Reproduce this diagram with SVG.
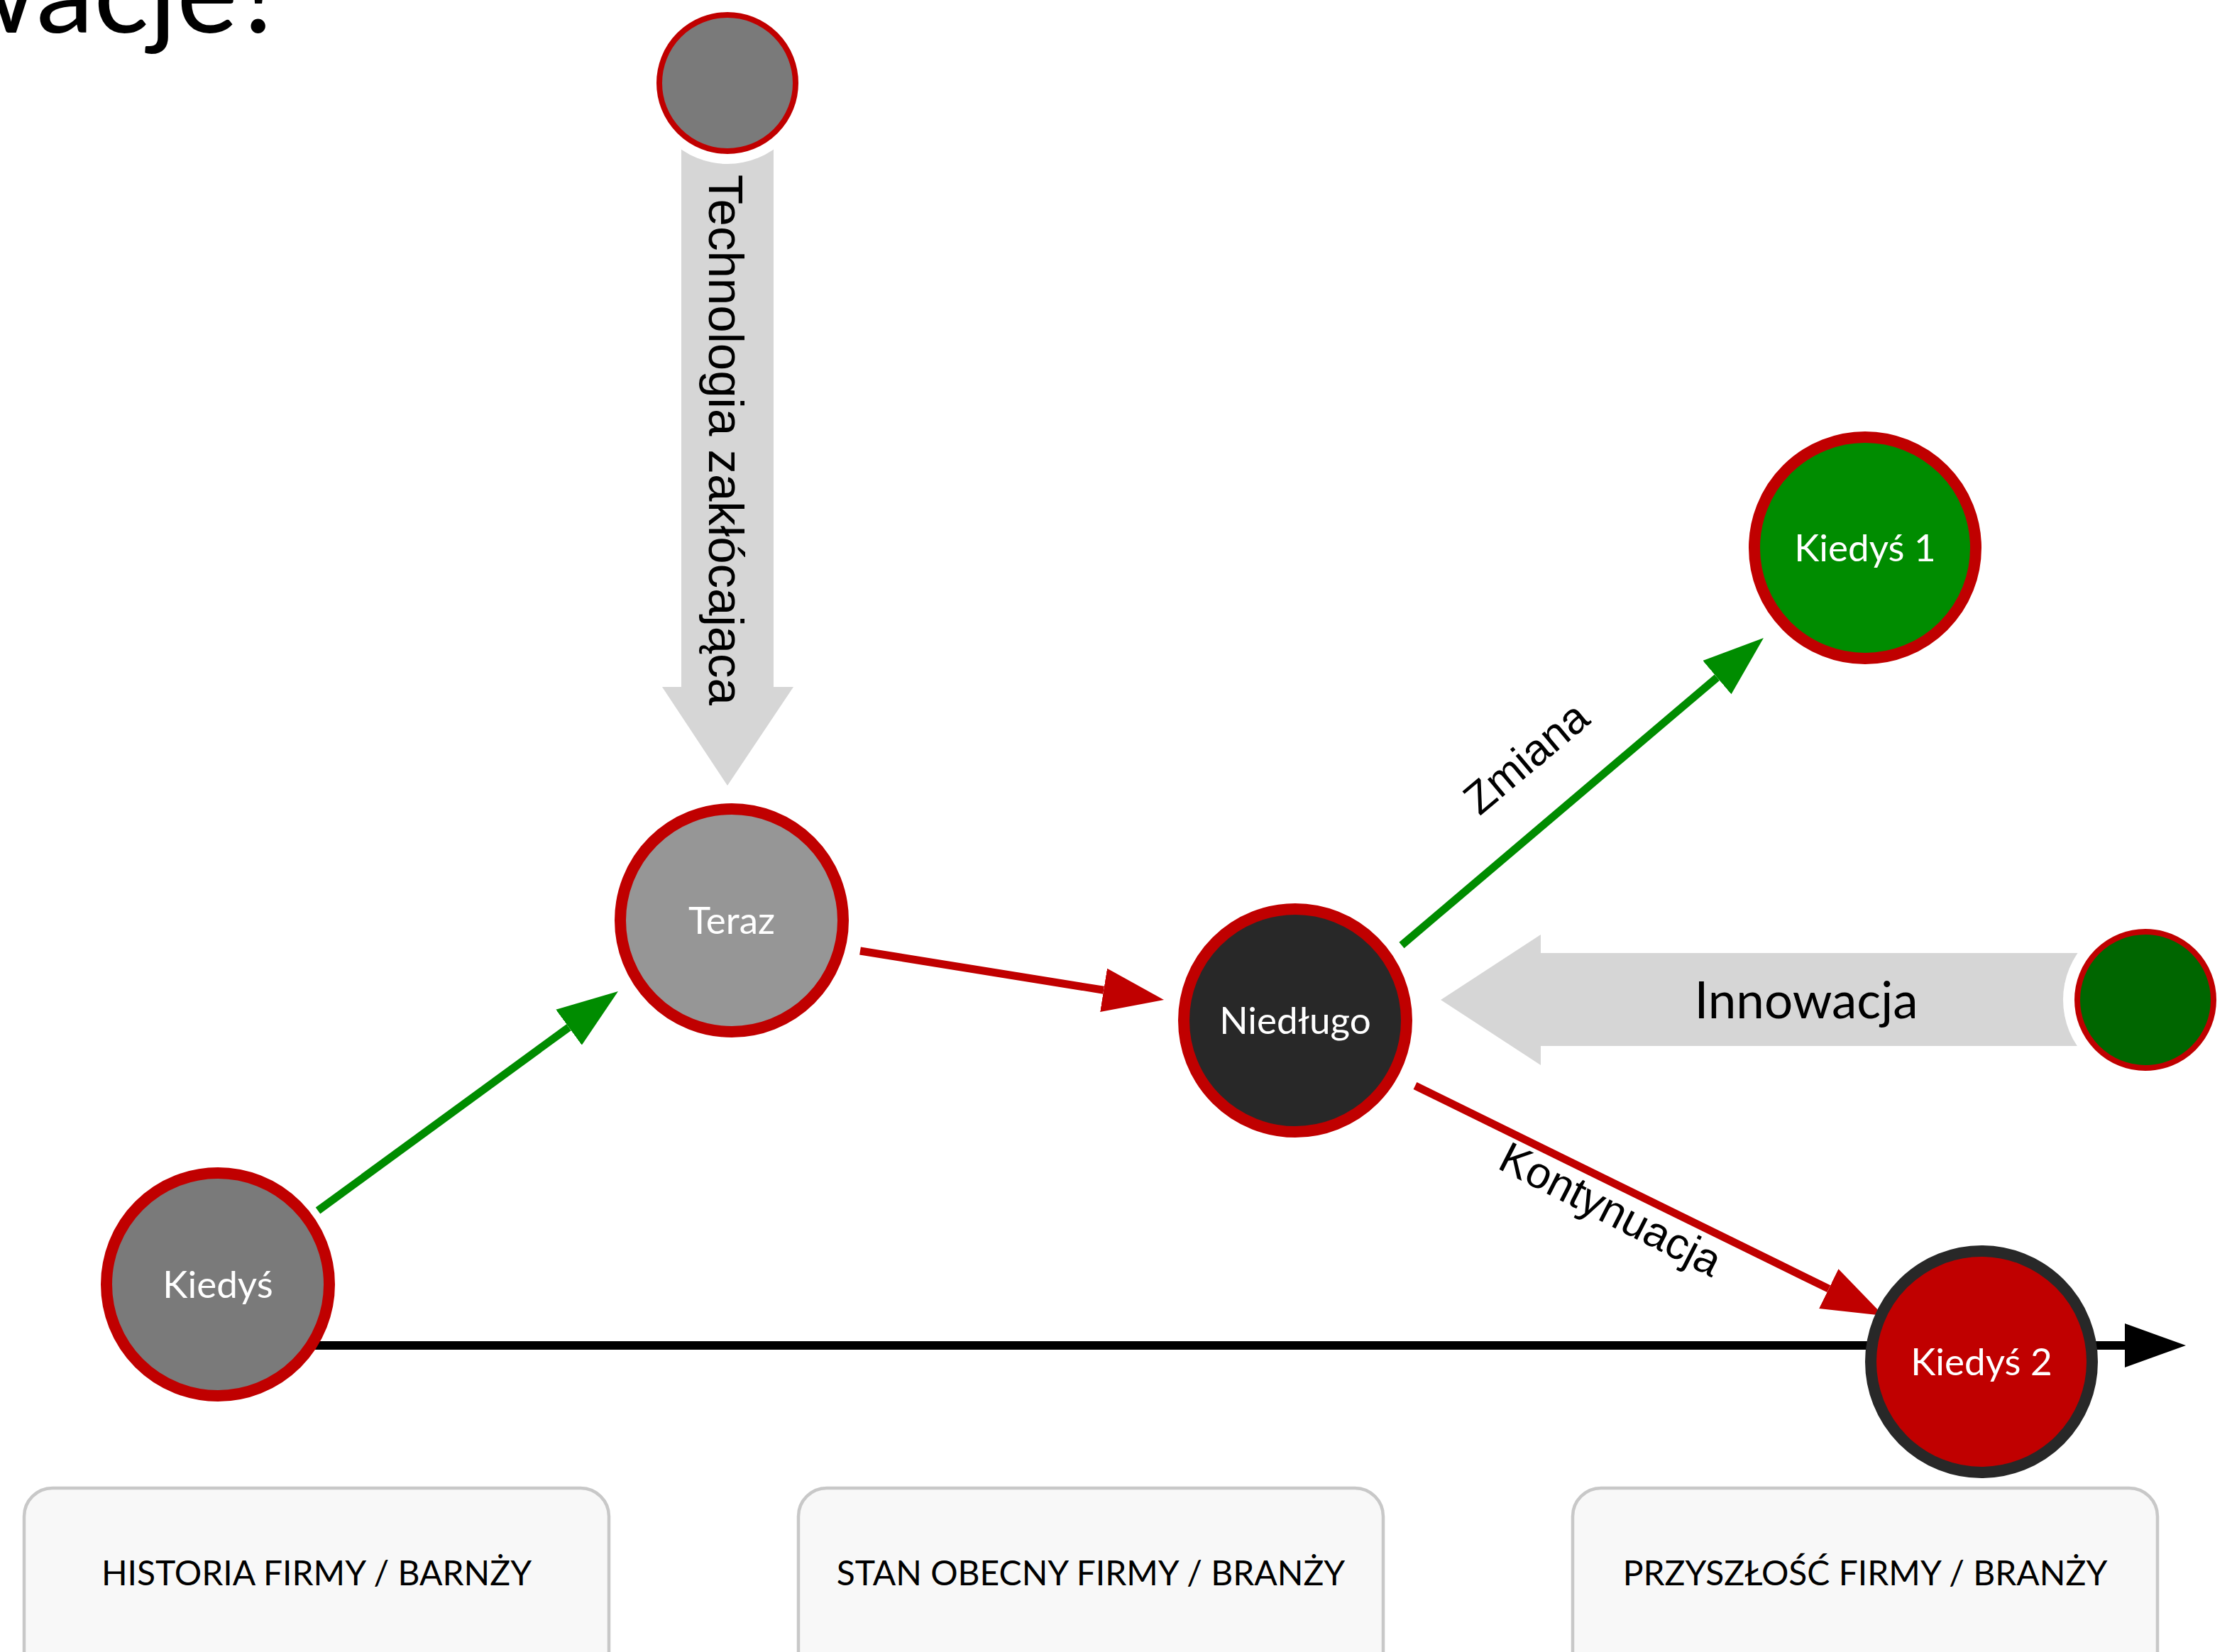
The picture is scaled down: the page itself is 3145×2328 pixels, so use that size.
<svg xmlns="http://www.w3.org/2000/svg" width="3145" height="2328" viewBox="0 0 3145 2328">
<style>
.lato{font-family:Lato,"Noto Sans",sans-serif}
.arial{font-family:"Liberation Sans",Arial,sans-serif}
.nlabel{font-family:Lato,"Noto Sans",sans-serif;font-size:53px;fill:#ffffff;text-anchor:middle}
.elabel{font-family:"Liberation Sans",Arial,sans-serif;font-size:62px;fill:#000000;text-anchor:middle}
.box{fill:#f8f8f8;stroke:#c8c8c8;stroke-width:4.5}
.blabel{font-family:Lato,"Noto Sans",sans-serif;font-size:48px;fill:#000000;text-anchor:middle}
.big{stroke-width:16}
.small{stroke-width:8}
.halo{fill:#ffffff}
.band{fill:#d6d6d6}
</style>
<defs>
<marker id="hg" markerUnits="userSpaceOnUse" markerWidth="86" markerHeight="62" refX="0" refY="31" orient="auto" viewBox="0 0 86 62"><path d="M0,0 L86,31 L0,62 z" fill="#008c00"/></marker>
<marker id="hr" markerUnits="userSpaceOnUse" markerWidth="86" markerHeight="62" refX="0" refY="31" orient="auto" viewBox="0 0 86 62"><path d="M0,0 L86,31 L0,62 z" fill="#c00000"/></marker>
<marker id="hk" markerUnits="userSpaceOnUse" markerWidth="86" markerHeight="62" refX="0" refY="31" orient="auto" viewBox="0 0 86 62"><path d="M0,0 L86,31 L0,62 z" fill="#000000"/></marker>
</defs>
<rect width="3145" height="2328" fill="#ffffff"/>

<text id="title" class="lato" x="-76" y="46" font-size="163" fill="#000000">wacje?</text>

<g id="boxes">
<g id="box-historia"><rect class="box" x="34" y="2097" width="824" height="400" rx="40"/><text class="blabel" x="446" y="2234">HISTORIA FIRMY / BARNŻY</text></g>
<g id="box-stan"><rect class="box" x="1125" y="2097" width="824" height="400" rx="40"/><text class="blabel" x="1537" y="2234">STAN OBECNY FIRMY / BRANŻY</text></g>
<g id="box-przyszlosc"><rect class="box" x="2216" y="2097" width="824" height="400" rx="40"/><text class="blabel" x="2628" y="2234">PRZYSZŁOŚĆ FIRMY / BRANŻY</text></g>
</g>

<g id="forces">
<g id="tech-arrow"><polygon class="band" points="960,200 1090,200 1090,968 1118,968 1025,1107 933,968 960,968"/><text class="arial" transform="translate(999,620) rotate(90)" font-size="69" text-anchor="middle" fill="#000000">Technologia zakłócająca</text></g>
<g id="innowacja-arrow"><polygon class="band" points="3000,1343 2171,1343 2171,1317 2030,1409 2171,1501 2171,1474 3000,1474"/><text class="lato" x="2545" y="1435" font-size="71" text-anchor="middle" fill="#000000">Innowacja</text></g>
</g>

<g id="connectors" fill="none">
<line id="timeline" x1="307" y1="1896" x2="2994" y2="1896" stroke="#000000" stroke-width="12" marker-end="url(#hk)"/>
<line x1="448" y1="1706" x2="801.5" y2="1447.7" stroke="#008c00" stroke-width="11" marker-end="url(#hg)"/>
<line x1="1212" y1="1340" x2="1555.1" y2="1395.3" stroke="#c00000" stroke-width="11" marker-end="url(#hr)"/>
<line x1="1975" y1="1332" x2="2419.4" y2="954.7" stroke="#008c00" stroke-width="11" marker-end="url(#hg)"/>
<line x1="1994" y1="1530" x2="2576.8" y2="1816.1" stroke="#c00000" stroke-width="11" marker-end="url(#hr)"/>
<text class="elabel" transform="translate(2164,1084) rotate(-40)">Zmiana</text>
<text class="elabel" transform="translate(2260,1723) rotate(27)">Kontynuacja</text>
</g>

<g id="node-tech-source"><circle class="halo" cx="1025" cy="117" r="114"/><circle cx="1025" cy="117" r="96" fill="#7a7a7a" stroke="#c00000" class="small"/></g>
<g id="node-innowacja-source"><circle class="halo" cx="3023" cy="1409" r="116"/><circle cx="3023" cy="1409" r="96" fill="#006600" stroke="#c00000" class="small"/></g>
<g id="node-kiedys"><circle cx="307" cy="1810" r="157" fill="#7a7a7a" stroke="#c00000" class="big"/><text class="nlabel" x="307" y="1829">Kiedyś</text></g>
<g id="node-teraz"><circle cx="1031" cy="1297" r="157" fill="#969696" stroke="#c00000" class="big"/><text class="nlabel" x="1031" y="1316">Teraz</text></g>
<g id="node-niedlugo"><circle cx="1825" cy="1438" r="157" fill="#282828" stroke="#c00000" class="big"/><text class="nlabel" x="1825" y="1457">Niedługo</text></g>
<g id="node-kiedys1"><circle cx="2628" cy="772" r="156" fill="#008c00" stroke="#c00000" class="big"/><text class="nlabel" x="2628" y="791">Kiedyś 1</text></g>
<g id="node-kiedys2"><circle cx="2792" cy="1919" r="156" fill="#c00000" stroke="#282828" class="big"/><text class="nlabel" x="2792" y="1938">Kiedyś 2</text></g>
</svg>
